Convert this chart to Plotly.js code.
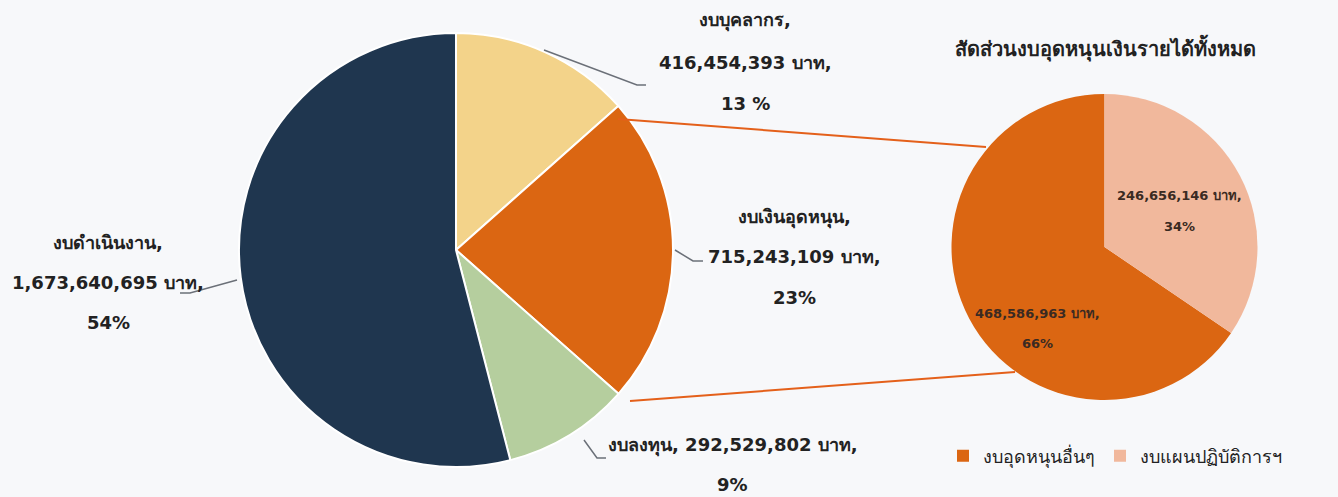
<!DOCTYPE html>
<html>
<head>
<meta charset="utf-8">
<script src="https://cdn.plot.ly/plotly-3.0.1.min.js"></script>
<style>
  html, body { margin: 0; padding: 0; background: #F7F8FA; }
  #chart { width: 1338px; height: 497px; }
</style>
</head>
<body>
<div id="chart"></div>
<script>
// ---- data ----
const mainLabels = ['งบบุคลากร', 'งบเงินอุดหนุน', 'งบลงทุน', 'งบดำเนินงาน'];
const mainValues = [416454393, 715243109, 292529802, 1673640695];
const mainPctText = ['13 %', '23%', '9%', '54%'];
const mainColors = ['#F3D38A', '#DB6612', '#B5CE9E', '#1F364F'];

const subTitle = 'สัดส่วนงบอุดหนุนเงินรายได้ทั้งหมด';
const subLabels = ['งบอุดหนุนอื่นๆ', 'งบแผนปฏิบัติการฯ'];
const subValues = [468586963, 246656146];
const subPctText = ['66%', '34%'];
const subColors = ['#DB6612', '#F1B89C'];

// ---- helpers ----
const W = 1338, H = 497;
const px = x => x / W;
const py = y => 1 - y / H;
const fmt = v => v.toLocaleString('en-US');
const FONT = "Tahoma, Verdana, 'DejaVu Sans', 'Noto Sans', sans-serif";
const TXT = '#222222';

// pie geometry (pixels)
const mainC = { x: 456, y: 250, r: 217 };
const subC = { x: 1104.5, y: 247, r: 153 };

function domainFor(c) {
  return {
    x: [px(c.x - c.r), px(c.x + c.r)],
    y: [py(c.y + c.r), py(c.y - c.r)]
  };
}

// second slice (งบแผนปฏิบัติการฯ) starts at 12 o'clock going clockwise,
// so the first slice starts where the second one ends
const subTotal = subValues.reduce((a, b) => a + b, 0);
const subRotation = 360 * subValues[1] / subTotal;

const data = [
  {
    type: 'pie',
    labels: mainLabels,
    values: mainValues,
    sort: false,
    direction: 'clockwise',
    rotation: 0,
    domain: domainFor(mainC),
    marker: { colors: mainColors, line: { color: '#FFFFFF', width: 2 } },
    textinfo: 'none',
    hoverinfo: 'label+value+percent',
    showlegend: false
  },
  {
    type: 'pie',
    labels: subLabels,
    values: subValues,
    sort: false,
    direction: 'clockwise',
    rotation: subRotation,
    domain: domainFor(subC),
    marker: { colors: subColors, line: { color: subColors[0], width: 0 } },
    textinfo: 'none',
    hoverinfo: 'label+value+percent',
    showlegend: true
  }
];

// ---- label layout (positions only) ----
const mainLabelPos = [
  { cx: 745, ys: [20, 62, 103], split: 3 },
  { cx: 794, ys: [217, 256, 297], split: 3 },
  { cx: 733, ys: [445, 484], split: 2 },
  { cx: 108, ys: [242, 282, 322], split: 3 }
];
const subLabelPos = [
  { cx: 1037, ys: [313, 343] },
  { cx: 1179, ys: [196, 226] }
];

const annotations = [];
mainLabels.forEach((lab, i) => {
  const p = mainLabelPos[i];
  let lines;
  if (p.split === 3) lines = [lab + ',', fmt(mainValues[i]) + ' บาท,', mainPctText[i]];
  else lines = [lab + ', ' + fmt(mainValues[i]) + ' บาท,', mainPctText[i]];
  lines.forEach((t, k) => {
    annotations.push({
      xref: 'paper', yref: 'paper', x: px(p.cx), y: py(p.ys[k]),
      xanchor: 'center', yanchor: 'middle', showarrow: false,
      text: '<b>' + t + '</b>',
      font: { family: FONT, size: 18, color: TXT }
    });
  });
});
subLabels.forEach((lab, i) => {
  const p = subLabelPos[i];
  const lines = [fmt(subValues[i]) + ' บาท,', subPctText[i]];
  lines.forEach((t, k) => {
    annotations.push({
      xref: 'paper', yref: 'paper', x: px(p.cx), y: py(p.ys[k]),
      xanchor: 'center', yanchor: 'middle', showarrow: false,
      text: '<b>' + t + '</b>',
      font: { family: FONT, size: 13, color: '#3a2a22' }
    });
  });
});
annotations.push({
  xref: 'paper', yref: 'paper', x: px(1105), y: py(48),
  xanchor: 'center', yanchor: 'middle', showarrow: false,
  text: '<b>' + subTitle + '</b>',
  font: { family: FONT, size: 20, color: TXT }
});

// ---- leader & connector lines ----
function pathPx(pts) {
  return pts.map((p, i) => (i ? 'L' : 'M') + px(p[0]).toFixed(5) + ',' + py(p[1]).toFixed(5)).join(' ');
}
const leaders = [
  [[544, 50], [637, 85], [646, 85]],
  [[675, 250], [693, 261], [703, 261]],
  [[584, 440], [597, 458], [606, 458]],
  [[237, 280], [190, 293], [180, 293]]
];
const connectors = [
  [[618, 119], [986, 147]],
  [[630, 401], [1015, 372]]
];
const shapes = [];
leaders.forEach(pts => shapes.push({
  type: 'path', xref: 'paper', yref: 'paper', path: pathPx(pts),
  line: { color: '#6B7078', width: 1.5 }
}));
connectors.forEach(pts => shapes.push({
  type: 'path', xref: 'paper', yref: 'paper', path: pathPx(pts),
  line: { color: '#E4601A', width: 2 }
}));

const layout = {
  width: W, height: H,
  margin: { l: 0, r: 0, t: 0, b: 0 },
  paper_bgcolor: '#F7F8FA',
  plot_bgcolor: '#F7F8FA',
  showlegend: true,
  legend: {
    orientation: 'h',
    x: px(943), y: py(456), xanchor: 'left', yanchor: 'middle',
    font: { family: FONT, size: 18, color: TXT },
    bgcolor: 'rgba(0,0,0,0)',
    itemwidth: 30,
    tracegroupgap: 0
  },
  annotations: annotations,
  shapes: shapes
};

Plotly.newPlot('chart', data, layout, { displayModeBar: false, staticPlot: true });
</script>
</body>
</html>
